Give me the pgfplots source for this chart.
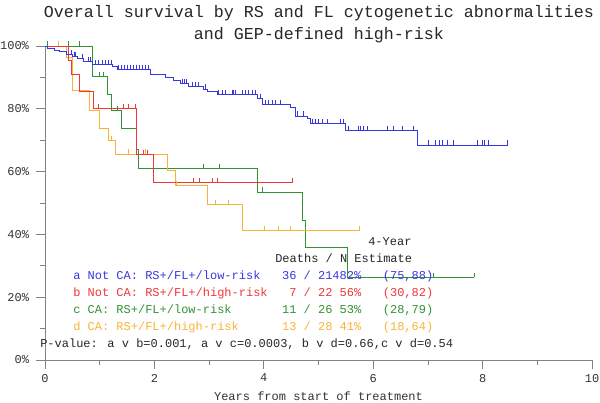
\documentclass[border=0pt]{standalone}
\usepackage{fontspec}
\setmainfont{Liberation Mono}
\setmonofont{Liberation Mono}
\usepackage{pgfplots}
\pgfplotsset{compat=1.18}
\definecolor{cblue}{RGB}{55,55,225}
\definecolor{cred}{RGB}{238,55,55}
\definecolor{cgreen}{RGB}{50,145,50}
\definecolor{corange}{RGB}{248,178,55}
\definecolor{axgray}{RGB}{130,130,130}
\newcommand{\lf}{\fontsize{9}{10}\selectfont}
\begin{document}
\begin{tikzpicture}
\useasboundingbox (-33.75pt,-32.25pt) rectangle (416.25pt,270pt);
\begin{axis}[
  at={(0pt,0pt)}, anchor=south west,
  scale only axis, width=410.25pt, height=235.5pt,
  xmin=0, xmax=10, ymin=0, ymax=100,
  clip=false,
  axis x line=bottom, axis y line=left,
  axis line style={draw=axgray, line width=0.6pt, -},
  xtick={0,2,...,10}, minor xtick={1,3,5,7,9},
  ytick={0,20,...,100}, minor ytick={10,30,50,70,90},
  tick align=outside, major tick length=7pt, minor tick length=3.5pt,
  tick style={draw=axgray, line width=0.6pt},
  xticklabel={\pgfmathprintnumber[assume math mode=true]{\tick}},
  yticklabel={\pgfmathprintnumber[assume math mode=true]{\tick}\%},
  tick label style={font=\lf, text=black!80},
  yticklabel style={xshift=-1.5pt},
  every axis plot/.append style={line width=0.6pt},
  censor/.style={only marks, mark=|, mark size=1.7pt, mark options={yshift=1.7pt, line width=0.5pt}},
]
% c: CA low-risk (green)
\addplot[const plot, cgreen] coordinates {(0,100)(0.86,90.4)(1.14,84.6)(1.22,79.6)(1.40,73.9)(1.68,67.0)(1.71,61.1)(3.88,53.5)(4.70,44.6)(4.76,35.7)(5.52,26.4)(7.84,26.4)};
\addplot[censor, cgreen] coordinates {(0.05,100)(0.42,100)(0.62,100)(1.00,90.4)(1.06,90.4)(1.32,79.6)(2.89,61.1)(3.19,61.1)(3.97,53.5)(7.10,26.4)(7.84,26.4)};
% d: CA high-risk (orange)
\addplot[const plot, corange] coordinates {(0,100)(0.40,96.4)(0.50,85.7)(0.82,79.6)(1.00,73.9)(1.15,70.0)(1.28,65.6)(2.23,60.5)(2.39,55.7)(2.96,49.4)(3.60,41.2)(5.75,41.2)};
\addplot[censor, corange] coordinates {(0.24,100)(1.22,70.0)(1.52,65.6)(1.83,65.6)(2.41,55.7)(3.11,49.4)(3.35,49.4)(4.01,41.2)(4.26,41.2)(4.48,41.2)(5.75,41.2)};
% b: Not CA high-risk (red)
\addplot[const plot, cred] coordinates {(0,100)(0.42,95.5)(0.48,90.9)(0.62,85.5)(0.88,80.0)(1.68,65.5)(1.98,56.4)(4.52,56.4)};
\addplot[censor, cred] coordinates {(0.98,80.0)(1.43,80.0)(1.52,80.0)(1.66,80.0)(1.80,65.5)(1.87,65.5)(2.71,56.4)(2.82,56.4)(3.06,56.4)(3.15,56.4)(4.52,56.4)};
% a: Not CA low-risk (blue)
\addplot[const plot, cblue] coordinates {(0,100)(0.05,99.3)(0.18,98.7)(0.27,98.2)(0.40,97.4)(0.50,96.6)(0.59,95.9)(0.70,95.2)(0.86,94.2)(1.23,93.4)(1.32,92.6)(1.92,91.0)(2.20,89.9)(2.35,89.0)(2.47,88.0)(2.62,87.0)(2.90,86.3)(2.97,85.4)(3.15,84.7)(3.88,83.4)(3.97,81.5)(4.49,80.3)(4.58,77.7)(4.80,76.8)(4.86,75.2)(5.49,73.1)(6.81,68.5)(8.46,68.5)};
\addplot[censor, cblue] coordinates {(0.49,97.4)(0.53,96.6)(0.55,96.6)(0.68,95.9)(0.79,95.2)(0.82,95.2)(0.92,94.2)(0.97,94.2)(1.04,94.2)(1.10,94.2)(1.15,94.2)(1.21,94.2)(1.34,92.6)(1.39,92.6)(1.45,92.6)(1.50,92.6)(1.56,92.6)(1.61,92.6)(1.67,92.6)(1.72,92.6)(1.78,92.6)(1.83,92.6)(1.89,92.6)(2.51,88.0)(2.55,88.0)(2.58,88.0)(2.69,87.0)(2.75,87.0)(2.80,87.0)(2.93,86.3)(3.17,84.7)(3.24,84.7)(3.30,84.7)(3.42,84.7)(3.44,84.7)(3.48,84.7)(3.61,84.7)(3.66,84.7)(3.72,84.7)(3.79,84.7)(3.85,84.7)(3.94,83.4)(4.03,81.5)(4.08,81.5)(4.16,81.5)(4.21,81.5)(4.30,81.5)(4.62,77.7)(4.73,77.7)(4.89,75.2)(4.95,75.2)(5.00,75.2)(5.07,75.2)(5.16,75.2)(5.40,75.2)(5.46,75.2)(5.55,73.1)(5.73,73.1)(5.77,73.1)(5.82,73.1)(5.90,73.1)(6.26,73.1)(6.37,73.1)(6.54,73.1)(6.74,73.1)(7.00,68.5)(7.14,68.5)(7.20,68.5)(7.27,68.5)(7.36,68.5)(7.47,68.5)(7.91,68.5)(8.00,68.5)(8.04,68.5)(8.10,68.5)(8.46,68.5)};
\end{axis}
% title
\node[font=\fontsize{12.5}{14}\selectfont, text=black!85] at (205.5pt,260.25pt) {Overall survival by RS and FL cytogenetic abnormalities};
\node[font=\fontsize{12.5}{14}\selectfont, text=black!85] at (205.5pt,243.75pt) {and GEP-defined high-risk};
% x label
\node[font=\lf, text=black!80] at (205.1pt,-27pt) {Years from start of treatment};
% legend block
\node[font=\lf, anchor=west, inner sep=0pt, text=black!85] at (242.25pt,88.5pt) {4-Year};
\node[font=\lf, anchor=west, inner sep=0pt, text=black!85] at (172.5pt,76.5pt) {Deaths / N Estimate};
\node[font=\lf, anchor=west, inner sep=0pt, text=cblue] at (21pt,63pt) {a Not CA: RS+/FL+/low-risk\ \ \ 36 / 21482\%\ \ \ (75,88)};
\node[font=\lf, anchor=west, inner sep=0pt, text=cred] at (21pt,50.25pt) {b Not CA: RS+/FL+/high-risk\ \ \ 7 / 22 56\%\ \ \ (30,82)};
\node[font=\lf, anchor=west, inner sep=0pt, text=cgreen] at (21pt,37.1pt) {c CA: RS+/FL+/low-risk\ \ \ \ \ \ \ 11 / 26 53\%\ \ \ (28,79)};
\node[font=\lf, anchor=west, inner sep=0pt, text=corange] at (21pt,24.4pt) {d CA: RS+/FL+/high-risk\ \ \ \ \ \ 13 / 28 41\%\ \ \ (18,64)};
\node[font=\lf, anchor=west, inner sep=0pt, text=black!85] at (-3.75pt,11.6pt) {P-value: a v b=0.001, a v c=0.0003, b v d=0.66,c v d=0.54};
\end{tikzpicture}
\end{document}
